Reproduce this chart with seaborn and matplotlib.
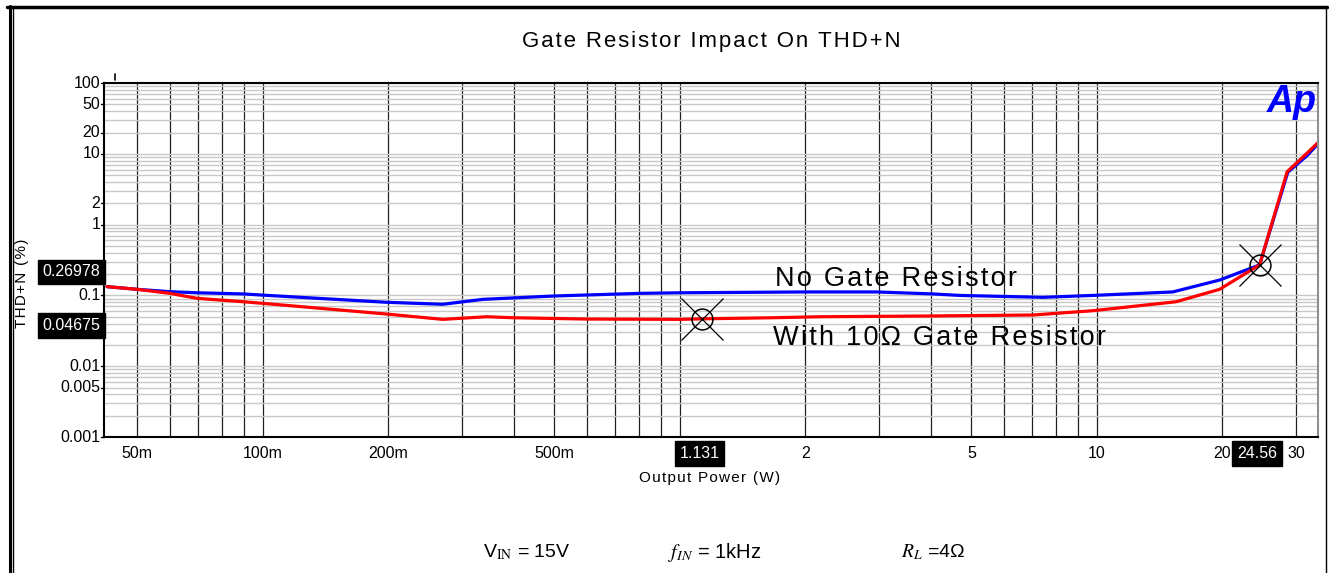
import matplotlib
matplotlib.use("Agg")
import numpy as np
import pandas as pd
import matplotlib.pyplot as plt
from matplotlib.lines import Line2D
from matplotlib.ticker import LogLocator, FixedLocator, NullFormatter
import seaborn as sns

# values (Output Power in W, THD+N in %)
blue_power = [0.0423, 0.0499, 0.0598, 0.0695, 0.0896, 0.100, 0.198, 0.270, 0.337, 0.496,
              0.802, 1.00, 2.02, 2.97, 4.04, 4.69, 7.42, 9.78, 15.2, 19.7, 24.56, 28.7, 31.9, 33.9]
blue_thdn = [0.133, 0.122, 0.113, 0.109, 0.105, 0.101, 0.080, 0.075, 0.088, 0.098,
             0.107, 0.109, 0.112, 0.112, 0.105, 0.100, 0.094, 0.100, 0.112, 0.165, 0.270, 5.5, 9.4, 13.8]

red_power = [0.0423, 0.0499, 0.0598, 0.0695, 0.0896, 0.100, 0.198, 0.270, 0.344, 0.398,
             0.598, 1.00, 1.131, 1.67, 2.17, 3.91, 7.02, 9.78, 15.5, 19.7, 24.56, 28.6, 31.9, 33.9]
red_thdn = [0.133, 0.122, 0.107, 0.091, 0.0815, 0.0773, 0.0546, 0.0459, 0.050, 0.0484,
            0.0464, 0.0459, 0.04675, 0.0484, 0.050, 0.0512, 0.0529, 0.0608, 0.0815, 0.122, 0.2698, 5.6, 10.2, 14.4]

series_names = ["No Gate Resistor", "With 10\u03a9 Gate Resistor"]
cursor_power = [24.56, 1.131]
cursor_thdn = [0.26978, 0.04675]
cursor_x_labels = ["24.56", "1.131"]
cursor_y_labels = ["0.26978", "0.04675"]

x_ticks = [0.05, 0.1, 0.2, 0.5, 2, 5, 10, 20, 30]
x_tick_labels = ["50m", "100m", "200m", "500m", "2", "5", "10", "20", "30"]
y_ticks = [0.001, 0.005, 0.01, 0.1, 1, 2, 10, 20, 50, 100]
y_tick_labels = ["0.001", "0.005", "0.01", "0.1", "1", "2", "10", "20", "50", "100"]


def spaced(s, gap="\u200a"):
    # the analyzer export uses wide letter spacing
    return gap.join(s)


df = pd.concat([
    pd.DataFrame({"power": blue_power, "thdn": blue_thdn, "series": series_names[0]}),
    pd.DataFrame({"power": red_power, "thdn": red_thdn, "series": series_names[1]}),
])

sns.set_style("white")
plt.rcParams["font.family"] = ["Liberation Sans", "DejaVu Sans"]
plt.rcParams["mathtext.fontset"] = "stix"
plt.rcParams["text.color"] = "black"

fig = plt.figure(figsize=(13.29, 5.73), dpi=100)
ax = fig.add_axes([0.0786, 0.2373, 0.9131, 0.6178])

ax.set_xscale("log")
ax.set_yscale("log")
ax.set_xlim(0.0417, 33.9)
ax.set_ylim(0.001, 100)

# grid: dark verticals, light horizontals
ax.xaxis.set_major_locator(LogLocator(base=10, subs=np.arange(1, 10)))
ax.xaxis.set_major_formatter(NullFormatter())
ax.xaxis.set_minor_locator(FixedLocator([]))
ax.yaxis.set_major_locator(LogLocator(base=10, subs=np.arange(1, 10)))
ax.yaxis.set_major_formatter(NullFormatter())
ax.yaxis.set_minor_locator(FixedLocator([]))
ax.grid(axis="x", color="#202020", linewidth=0.9)
ax.grid(axis="y", color="#c8c8c8", linewidth=1.0)
ax.tick_params(axis="both", length=0, labelleft=False, labelbottom=False)

sns.lineplot(data=df, x="power", y="thdn", hue="series",
             palette={series_names[0]: "#0000ff", series_names[1]: "#ff0000"},
             linewidth=2.3, estimator=None, sort=False, legend=False, ax=ax)
ax.set_xlabel("")
ax.set_ylabel("")

for v, lab in zip(x_ticks, x_tick_labels):
    ax.annotate(lab, xy=(v, 0), xycoords=("data", "axes fraction"), xytext=(0, -12),
                textcoords="offset points", ha="center", va="center", fontsize=11.5)
for v, lab in zip(y_ticks, y_tick_labels):
    ax.annotate(lab, xy=(0, v), xycoords=("axes fraction", "data"), xytext=(-3, 0),
                textcoords="offset points", ha="right", va="center", fontsize=11.5)
    ax.plot([0, -0.003], [v, v], transform=ax.get_yaxis_transform(), color="black",
            linewidth=1, clip_on=False)

for s in ["left", "bottom", "top"]:
    ax.spines[s].set_color("black")
    ax.spines[s].set_linewidth(1.5)
ax.spines["right"].set_color("#909090")
ax.spines["right"].set_linewidth(1.5)

# cursors
for p, t in zip(cursor_power, cursor_thdn):
    ax.plot(p, t, marker="x", markersize=30, markeredgewidth=0.9, color="black", zorder=5)
    ax.plot(p, t, marker="o", markersize=15, markerfacecolor="none", markeredgewidth=1.1,
            color="black", zorder=5)
box = dict(boxstyle="square,pad=0.3", facecolor="black", edgecolor="black")
for p, lab in zip(cursor_power, cursor_x_labels):
    ax.annotate(lab, xy=(p, 0), xycoords=("data", "axes fraction"), xytext=(-2, -12),
                textcoords="offset points", ha="center", va="center", fontsize=11.5,
                color="white", bbox=box, zorder=6)
for t, lab in zip(cursor_thdn, cursor_y_labels):
    ax.annotate(lab, xy=(0, t), xycoords=("axes fraction", "data"), xytext=(-3, -5),
                textcoords="offset points", ha="right", va="center", fontsize=11.5,
                color="white", bbox=box, zorder=6, annotation_clip=False)

ax.text(1.69, 0.171, spaced(series_names[0]), fontsize=19.5, va="center", ha="left")
ax.text(1.67, 0.025, spaced(series_names[1]), fontsize=19.5, va="center", ha="left")

ax.text(0.978, 0.946, "Ap", transform=ax.transAxes, fontsize=27, fontweight="heavy",
        style="italic", color="#0000ff", ha="center", va="center")

fig.text(0.535, 1 - 42 / 573, spaced("Gate Resistor Impact On THD+N"), ha="center", va="center",
         fontsize=16)
fig.text(0.534, 1 - 478 / 573, spaced("Output Power (W)"), ha="center", va="center", fontsize=11)
fig.text(22 / 1329, 1 - 283 / 573, spaced("THD+N (%)"), rotation=90, ha="center", va="center",
         fontsize=11)

fig.text(483 / 1329, 1 - 552 / 573, r"V$_{\mathrm{IN}}$ = 15V", ha="left", va="center", fontsize=14)
fig.text(668 / 1329, 1 - 552 / 573, r"$f_{IN}$ = 1kHz", ha="left", va="center", fontsize=14.5)
fig.text(901 / 1329, 1 - 552 / 573, "$R_L$ =4\u03a9", ha="left", va="center", fontsize=14)

# page frame of the analyzer export
fig.add_artist(Line2D([7 / 1329, 1327 / 1329], [1 - 6.5 / 573] * 2, color="black", linewidth=2.5))
fig.add_artist(Line2D([9.5 / 1329] * 2, [0, 1 - 6 / 573], color="black", linewidth=2.2))
fig.add_artist(Line2D([13 / 1329] * 2, [0, 1 - 6 / 573], color="black", linewidth=1.0))
fig.add_artist(Line2D([1326 / 1329] * 2, [0, 1 - 6 / 573], color="black", linewidth=1.0))
fig.add_artist(Line2D([115 / 1329] * 2, [1 - 74 / 573, 1 - 80 / 573], color="black", linewidth=1.2))

fig.savefig("out.png", dpi=100)
